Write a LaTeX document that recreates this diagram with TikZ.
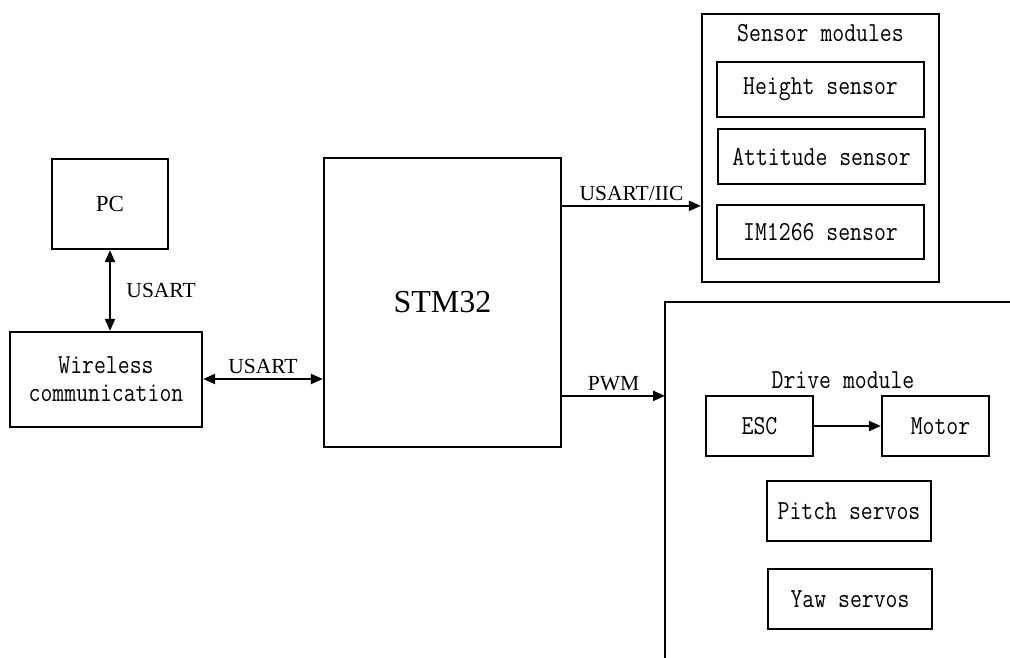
\documentclass[tikz,border=0pt]{standalone}
\usepackage{fontspec}
\setmainfont{Liberation Serif}
\newfontfamily\monof[FakeStretch=0.84]{Latin Modern Mono}
\usetikzlibrary{arrows.meta,calc}
\begin{document}
\begin{tikzpicture}[x=1pt,y=-1pt,
  box/.style={draw,line width=2.3pt,inner sep=0pt,align=center},
  mono/.style={font=\fontsize{27.5}{28}\selectfont\monof},
  serif/.style={font=\fontsize{21.5}{24}\selectfont},
  arr/.style={line width=2.3pt,-{Triangle[length=12pt,width=10pt]}},
  biarr/.style={line width=2.3pt,{Triangle[length=12pt,width=10pt]}-{Triangle[length=12pt,width=10pt]}}]
\useasboundingbox (0,0) rectangle (1010,657);
% left side
\node[box,font=\fontsize{23}{25}\selectfont,minimum width=116pt,minimum height=90pt] (pc) at (110,204) {PC};
\node[box,mono,minimum width=192pt,minimum height=95pt] (wl) at (106,379.5) {Wireless\\communication};
\node[box,font=\fontsize{32}{36}\selectfont,minimum width=237pt,minimum height=289pt] (stm) at (442.5,302.5) {STM32};
% sensor modules
\node[box,minimum width=237pt,minimum height=268pt] (sens) at (820.5,148) {};
\node[mono] (senst) at (820.5,33) {Sensor modules};
\node[box,mono,minimum width=207pt,minimum height=55pt] (hs) at (820.5,89.5) {Height sensor};
\node[box,mono,minimum width=207pt,minimum height=55pt] (as) at (821.5,156.5) {Attitude sensor};
\node[box,mono,minimum width=207pt,minimum height=54pt] (ims) at (820.5,232) {IM1266 sensor};
% drive module
\coordinate (drvtop) at (665,302);
\coordinate (drvin) at (665,397);
\draw[line width=2.3pt] (665,662) -- (drvtop) -- (1015,302);
\node[mono] (drvt) at (843,380) {Drive module};
\node[box,mono,minimum width=107pt,minimum height=60pt] (esc) at (759.5,426) {ESC};
\node[box,mono,minimum width=107pt,minimum height=60pt] (motor) at (935.5,426) {\hspace*{10pt}Motor};
\node[box,mono,minimum width=164pt,minimum height=60pt] (pitch) at (849,511) {Pitch servos};
\node[box,mono,minimum width=164pt,minimum height=60pt] (yaw) at (850,599) {Yaw servos};
% connectors
\draw[biarr] (pc.south) -- (pc.south |- wl.north) node[midway,right=12pt,serif] {USART};
\draw[biarr] (wl.east |- 0,379) coordinate (w1) -- (w1 -| stm.west) node[midway,above=1pt,serif] {USART};
\draw[arr] ([yshift=-49pt]stm.north east) coordinate (u1) -- (u1 -| sens.west) node[midway,above=1pt,serif] {USART/IIC};
\draw[arr] ([yshift=-239pt]stm.north east) coordinate (u2) -- (u2 -| drvin) node[midway,above=1pt,serif] {PWM};
\draw[arr] (esc.east) -- (motor.west);
\end{tikzpicture}
\end{document}
